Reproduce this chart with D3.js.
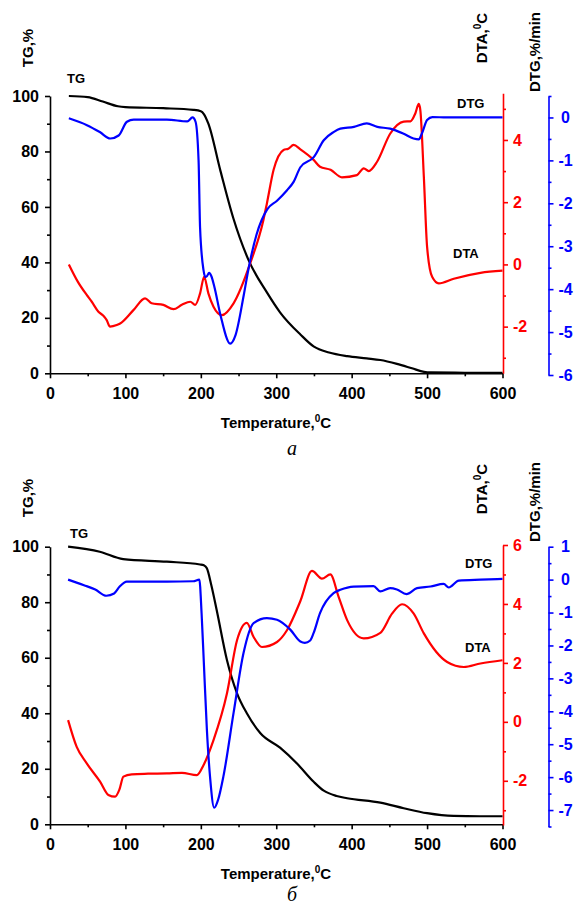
<!DOCTYPE html>
<html>
<head>
<meta charset="utf-8">
<script src="https://cdn.jsdelivr.net/npm/d3@7"></script>
<style>
  body { margin: 0; background: #fff; }
  svg { display: block; }
  text { font-family: "Liberation Sans", Arial, sans-serif; font-weight: bold; }
</style>
</head>
<body>
<div id="chart"></div>
<script>
// ---- panel a ----
let tempTgA = [25, 50, 70, 90, 100, 150, 190, 200, 204, 210, 226, 243, 263, 288, 305, 332, 350, 370, 394, 420, 438, 460, 480, 496, 505, 550, 600]
let tgA = [100, 99.6, 98, 96.3, 96, 95.6, 95, 94.5, 93.5, 90, 73, 56, 41, 29, 22, 14, 9.6, 7.5, 6.2, 5.4, 4.8, 3.4, 1.8, 0.5, 0.3, 0.2, 0.2]

let tempDtaA = [25, 37, 48.7, 55.4, 64.2, 70.8, 75.2, 79.6, 88.5, 93, 110.6, 126, 134.8, 150.3, 163.7, 174.8, 186, 192.5, 199, 204.4, 210, 216.8, 228, 243.4, 265.5, 283, 287.6, 296.5, 309.7, 316, 323, 332, 349.6, 358, 372, 387, 407, 416, 422.6, 433.7, 451, 469, 478, 484.5, 489, 491, 495.7, 500, 506.7, 515.5, 535.4, 570.8, 600]
let dtaA = [0, -0.56, -0.98, -1.2, -1.52, -1.65, -1.79, -2.0, -1.95, -1.9, -1.47, -1.09, -1.25, -1.3, -1.44, -1.3, -1.2, -1.3, -0.93, -0.4, -0.93, -1.36, -1.63, -1.25, 0.04, 1.43, 1.96, 3.04, 3.68, 3.72, 3.84, 3.7, 3.36, 3.14, 3.04, 2.8, 2.87, 3.09, 3.0, 3.3, 4.2, 4.59, 4.6, 4.86, 5.16, 4.97, 2.82, 0.57, -0.4, -0.61, -0.46, -0.27, -0.2]

let tempDtgA = [25, 49, 66, 80, 91, 102, 111, 155, 182, 189, 193, 197, 199, 203.5, 206, 208, 211, 214, 218, 226, 239, 246, 257, 263.5, 274, 288, 301, 314, 323, 332, 350, 363, 376, 385, 403, 420, 434, 451, 469, 482, 489, 493, 500, 507, 526, 570, 600]
let dtgA = [-0.02, -0.18, -0.34, -0.49, -0.42, -0.1, -0.05, -0.05, -0.09, 0, -0.1, -1.0, -2.57, -3.55, -3.72, -3.7, -3.62, -3.7, -3.95, -4.6, -5.27, -5.07, -4.13, -3.5, -2.72, -2.14, -1.94, -1.7, -1.5, -1.16, -0.92, -0.53, -0.34, -0.26, -0.22, -0.14, -0.22, -0.26, -0.38, -0.49, -0.51, -0.38, -0.06, 0.01, 0, 0, 0]

// ---- panel b ----
let tempTgB = [24, 66, 97, 155, 199, 204, 208, 214, 221, 234.6, 248, 261, 279, 305, 327.5, 349.6, 363, 380, 394, 438, 469, 500, 535, 570, 600]
let tgB = [100, 98.2, 95.5, 94.6, 93.6, 93.3, 92.2, 86, 77.2, 59.2, 47.2, 40, 32.8, 27.6, 21.9, 15.3, 12.1, 10.2, 9.4, 7.8, 5.8, 4, 3, 2.9, 2.9]

let tempDtaB = [24, 35.4, 48.7, 66.4, 77.4, 86.3, 92, 97.3, 108.4, 130, 155, 175, 194.7, 203.5, 216.8, 234.6, 248, 261, 270, 281, 301, 314, 332, 347.3, 360.6, 371.7, 382.7, 394, 416, 438, 453.5, 466.8, 482.3, 495.7, 526.6, 548.7, 570.8, 600]
let dtaB = [0.06, -0.85, -1.41, -2.03, -2.48, -2.54, -2.3, -1.86, -1.78, -1.76, -1.75, -1.73, -1.81, -1.47, -0.62, 0.96, 2.77, 3.36, 2.88, 2.54, 2.71, 3.1, 4.1, 5.12, 4.86, 5.0, 4.24, 3.45, 2.83, 3.02, 3.67, 3.99, 3.67, 3.0, 2.03, 1.86, 1.98, 2.09]

let tempDtgB = [24, 45, 60, 74.7, 85, 92.4, 101.8, 120, 155, 190, 198, 201, 204, 208, 212.5, 217.7, 223, 230, 243.4, 256.6, 270, 287.6, 301, 318.6, 332, 338, 345, 349.6, 358, 376, 385, 402.6, 429, 438, 451, 460, 472.6, 486.7, 504.5, 522, 528.7, 542, 570.8, 600]
let dtgB = [0, -0.17, -0.3, -0.49, -0.42, -0.21, -0.06, -0.06, -0.06, -0.05, 0, -1.02, -2.53, -4.55, -6.07, -6.93, -6.68, -5.97, -4.05, -2.23, -1.32, -1.17, -1.22, -1.52, -1.88, -1.92, -1.85, -1.62, -1.02, -0.41, -0.31, -0.21, -0.2, -0.36, -0.26, -0.3, -0.44, -0.26, -0.21, -0.13, -0.24, -0.03, 0, 0.02]

// ticks
let tempTicks = [0, 100, 200, 300, 400, 500, 600]
let tempMinor = [50, 150, 250, 350, 450, 550]
let tgTicks = [0, 20, 40, 60, 80, 100]
let tgMinor = [10, 30, 50, 70, 90]
let dtaTicksA = [-2, 0, 2, 4]
let dtaMinorA = [-3, -1, 1, 3, 5]
let dtgTicksA = [-6, -5, -4, -3, -2, -1, 0]
let dtgMinorA = [-5.5, -4.5, -3.5, -2.5, -1.5, -0.5, 0.5]
let dtaTicksB = [-2, 0, 2, 4, 6]
let dtaMinorB = [-3, -1, 1, 3, 5]
let dtgTicksB = [-7, -6, -5, -4, -3, -2, -1, 0, 1]
let dtgMinorB = [-7.5, -6.5, -5.5, -4.5, -3.5, -2.5, -1.5, -0.5, 0.5]

var svg = d3.select("#chart").append("svg")
    .attr("width", 576)
    .attr("height", 906)

drawPanel({
    top: 96, bottom: 373.3,
    dtaDomain: [-3.5, 5.5], dtaRange: [373.3, 93.3],
    dtgDomain: [-6, 0.5], dtgRange: [375, 96],
    tg: [tempTgA, tgA], dta: [tempDtaA, dtaA], dtg: [tempDtgA, dtgA],
    dtaTicks: dtaTicksA, dtaMinor: dtaMinorA, dtgTicks: dtgTicksA, dtgMinor: dtgMinorA,
    tgTitleY: 48, dtaTitleY: 38, dtgTitleY: 52,
    tgLabel: [67, 83], dtgLabel: [457, 108], dtaLabel: [453, 258],
    xTitleY: 428, letter: "а", letterY: 455
})

drawPanel({
    top: 546.7, bottom: 824.3,
    dtaDomain: [-3.5, 6], dtaRange: [825, 545],
    dtgDomain: [-7.5, 1], dtgRange: [826.5, 546.7],
    tg: [tempTgB, tgB], dta: [tempDtaB, dtaB], dtg: [tempDtgB, dtgB],
    dtaTicks: dtaTicksB, dtaMinor: dtaMinorB, dtgTicks: dtgTicksB, dtgMinor: dtgMinorB,
    tgTitleY: 498, dtaTitleY: 489, dtgTitleY: 502,
    tgLabel: [70, 538], dtgLabel: [465, 568], dtaLabel: [465, 652],
    xTitleY: 879, letter: "б", letterY: 901
})

function drawPanel(p) {
    var x = d3.scaleLinear().domain([0, 600]).range([50, 502.5])
    var yTg = d3.scaleLinear().domain([0, 100]).range([p.bottom, p.top])
    var yDta = d3.scaleLinear().domain(p.dtaDomain).range(p.dtaRange)
    var yDtg = d3.scaleLinear().domain(p.dtgDomain).range(p.dtgRange)
    // plain hyphen instead of d3's unicode minus
    var fmt = function (d) { return String(d) }

    var g = svg.append("g")

    // x axis
    g.append("g")
        .attr("transform", "translate(0," + p.bottom + ")")
        .call(d3.axisBottom(x).tickValues(tempTicks).tickFormat(fmt).tickSize(5).tickPadding(9).tickSizeOuter(0))
    g.append("g")
        .attr("transform", "translate(0," + p.bottom + ")")
        .call(d3.axisBottom(x).tickValues(tempMinor).tickSize(3).tickFormat(""))
        .select(".domain").remove()

    // left axis TG
    g.append("g")
        .attr("transform", "translate(50,0)")
        .call(d3.axisLeft(yTg).tickValues(tgTicks).tickFormat(fmt).tickSize(5).tickPadding(6).tickSizeOuter(0))
    g.append("g")
        .attr("transform", "translate(50,0)")
        .call(d3.axisLeft(yTg).tickValues(tgMinor).tickSize(3).tickFormat(""))
        .select(".domain").remove()

    // right axis DTA (red)
    var ra = g.append("g")
        .attr("transform", "translate(503,0)")
        .call(d3.axisRight(yDta).tickValues(p.dtaTicks).tickFormat(fmt).tickSize(5).tickPadding(5).tickSizeOuter(0))
    var ram = g.append("g")
        .attr("transform", "translate(503,0)")
        .call(d3.axisRight(yDta).tickValues(p.dtaMinor).tickSize(3).tickFormat(""))
    ram.select(".domain").remove()

    // outer right axis DTG (blue)
    var ba = g.append("g")
        .attr("transform", "translate(548.5,0)")
        .call(d3.axisRight(yDtg).tickValues(p.dtgTicks).tickFormat(fmt).tickSize(5).tickPadding(12).tickSizeOuter(0))
    var bam = g.append("g")
        .attr("transform", "translate(548.5,0)")
        .call(d3.axisRight(yDtg).tickValues(p.dtgMinor).tickSize(3).tickFormat(""))
    bam.select(".domain").remove()
    // blue labels sit centred a little right of the ticks
    ba.selectAll(".tick text").attr("text-anchor", "middle")

    g.selectAll(".domain, .tick line").attr("stroke-width", 1.6)
    g.selectAll(".tick text")
        .style("font-size", "16px")
        .style("font-family", "'Liberation Sans', Arial, sans-serif")
        .style("font-weight", "bold")

    ra.selectAll(".tick text").attr("fill", "#ff0000")
    ba.selectAll(".tick text").attr("fill", "#0000ff")
    ra.selectAll("path, line").attr("stroke", "#ff0000")
    ram.selectAll("line").attr("stroke", "#ff0000")
    ba.selectAll("path, line").attr("stroke", "#0000ff")
    bam.selectAll("line").attr("stroke", "#0000ff")

    // curves
    var line = function (ys) {
        return d3.line()
            .x(function (d) { return x(d[0]) })
            .y(function (d) { return ys(d[1]) })
            .curve(d3.curveMonotoneX)
    }
    var zip = function (a, b) { return a.map(function (t, i) { return [t, b[i]] }) }

    g.append("path").datum(zip(p.tg[0], p.tg[1]))
        .attr("d", line(yTg)).attr("fill", "none").attr("stroke", "#000").attr("stroke-width", 2.2)
    g.append("path").datum(zip(p.dta[0], p.dta[1]))
        .attr("d", line(yDta)).attr("fill", "none").attr("stroke", "#ff0000").attr("stroke-width", 2.2)
    g.append("path").datum(zip(p.dtg[0], p.dtg[1]))
        .attr("d", line(yDtg)).attr("fill", "none").attr("stroke", "#0000ff").attr("stroke-width", 2.2)

    // axis titles
    g.append("text")
        .attr("transform", "translate(33," + p.tgTitleY + ") rotate(-90)")
        .attr("text-anchor", "middle").style("font-size", "15px")
        .text("TG,%")
    var dt = g.append("text")
        .attr("transform", "translate(487," + p.dtaTitleY + ") rotate(-90)")
        .attr("text-anchor", "middle").style("font-size", "15px")
    dt.append("tspan").text("DTA,")
    dt.append("tspan").attr("dy", -6).style("font-size", "10px").text("0")
    dt.append("tspan").attr("dy", 6).text("C")
    g.append("text")
        .attr("transform", "translate(540," + p.dtgTitleY + ") rotate(-90)")
        .attr("text-anchor", "middle").style("font-size", "15px")
        .text("DTG,%/min")

    var xt = g.append("text")
        .attr("x", 276).attr("y", p.xTitleY)
        .attr("text-anchor", "middle").style("font-size", "15px")
    xt.append("tspan").text("Temperature,")
    xt.append("tspan").attr("dy", -6).style("font-size", "10px").text("0")
    xt.append("tspan").attr("dy", 6).text("C")

    // curve labels
    g.append("text").attr("x", p.tgLabel[0]).attr("y", p.tgLabel[1]).style("font-size", "13px").text("TG")
    g.append("text").attr("x", p.dtgLabel[0]).attr("y", p.dtgLabel[1]).style("font-size", "13px").text("DTG")
    g.append("text").attr("x", p.dtaLabel[0]).attr("y", p.dtaLabel[1]).style("font-size", "13px").text("DTA")

    g.append("text")
        .attr("x", 292).attr("y", p.letterY)
        .attr("text-anchor", "middle")
        .style("font-family", "'Liberation Serif', 'DejaVu Serif', serif")
        .style("font-style", "italic").style("font-weight", "normal")
        .style("font-size", "20px")
        .text(p.letter)
}
</script>
</body>
</html>
